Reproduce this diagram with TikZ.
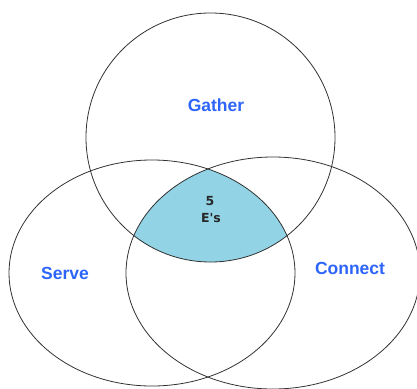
\documentclass[tikz,border=0pt]{standalone}
\usepackage{fontspec}
\newfontfamily\labfont{Liberation Sans}
\newfontfamily\ctrfont{DejaVu Sans}
\definecolor{labblue}{RGB}{45,100,250}
\definecolor{shadeblue}{RGB}{146,212,230}
\definecolor{edge}{RGB}{50,50,50}
\definecolor{ctrtext}{RGB}{40,40,40}
\tikzset{
  setline/.style={draw=edge, line width=0.8pt},
  setlabel/.style={text=labblue, font=\labfont\bfseries\fontsize{17.5}{20}\selectfont, inner sep=0pt},
  ctrlabel/.style={text=ctrtext, font=\ctrfont\bfseries\fontsize{12.5}{14}\selectfont, inner sep=0pt}
}
\begin{document}
\begin{tikzpicture}[x=1pt,y=-1pt]
\useasboundingbox (0,0) rectangle (417,388);
% shaded triple intersection
\begin{scope}
  \clip (152,273) ellipse [x radius=143pt, y radius=113pt];
  \clip (273,273) ellipse [x radius=147pt, y radius=116pt];
  \fill[fill=shadeblue] (210.5,137.5) circle [radius=124.5pt];
\end{scope}
% outlines
\draw[setline] (210.5,137.5) circle [radius=124.5pt];
\draw[setline] (152,273) ellipse [x radius=143pt, y radius=113pt];
\draw[setline] (273,273) ellipse [x radius=147pt, y radius=116pt];
% labels
\node[setlabel] (gather) at (216,105) {Gather};
\node[setlabel] (serve) at (65,273) {Serve};
\node[setlabel] (connect) at (350,268) {Connect};
\node[ctrlabel] (five) at (210,201) {5};
\node[ctrlabel] (es) at (211,218) {E's};
\end{tikzpicture}
\end{document}
